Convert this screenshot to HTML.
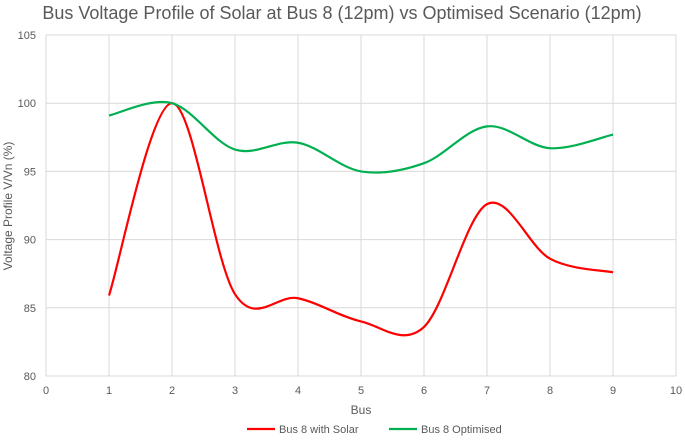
<!DOCTYPE html>
<html><head><meta charset="utf-8"><style>
body{margin:0;background:#fff;font-family:"Liberation Sans",sans-serif}
svg text{font-family:"Liberation Sans",sans-serif;fill:#595959}
</style></head><body>
<svg id="c" width="685" height="439" xmlns="http://www.w3.org/2000/svg">
<text x="342" y="19" text-anchor="middle" font-size="18">Bus Voltage Profile of Solar at Bus 8 (12pm) vs Optimised Scenario (12pm)</text>
<g id="grid"></g><g id="ticks"></g><g id="series"></g>
<text x="361" y="414" text-anchor="middle" font-size="12">Bus</text>
<text transform="translate(12,206) rotate(-90)" text-anchor="middle" font-size="12">Voltage Profile V/Vn (%)</text>
<g>
<line x1="247" y1="429" x2="275" y2="429" stroke="#ff0000" stroke-width="2.2"/>
<text x="279" y="433" font-size="11">Bus 8 with Solar</text>
<line x1="389" y1="429" x2="417" y2="429" stroke="#00b050" stroke-width="2.2"/>
<text x="421" y="433" font-size="11">Bus 8 Optimised</text>
</g>
</svg>
<script>
const buses=[1,2,3,4,5,6,7,8,9];
const solar=[85.9,100,86,85.7,84,83.6,92.6,88.6,87.6];
const optimised=[99.1,100,96.6,97.1,95,95.6,98.3,96.7,97.7];
const xTicks=[0,1,2,3,4,5,6,7,8,9,10];
const yTicks=[80,85,90,95,100,105];
const NS="http://www.w3.org/2000/svg";
const X=v=>46+v*63, Y=v=>376-(v-80)*13.64;
const grid=document.getElementById('grid'),ticks=document.getElementById('ticks'),ser=document.getElementById('series');
function mk(t,a,p){const e=document.createElementNS(NS,t);for(const k in a)e.setAttribute(k,a[k]);p.appendChild(e);return e;}
xTicks.forEach(t=>{const l=mk('line',{x1:X(t),x2:X(t),y1:Y(105),y2:Y(80),stroke:'#d9d9d9'},grid);


const tx=mk('text',{x:X(t),y:394,'text-anchor':'middle','font-size':11},ticks);tx.textContent=t;

});
yTicks.forEach(t=>{const l=mk('line',{x1:X(0),x2:X(10),y1:Y(t),y2:Y(t),stroke:'#d9d9d9'},grid);


const tx=mk('text',{x:36,y:Y(t)+4,'text-anchor':'end','font-size':11},ticks);tx.textContent=t;

});
function path(vals){const p=buses.map((b,i)=>[X(b),Y(vals[i])]);let d='M'+p[0];
for(let i=0;i<p.length-1;i++){const p0=p[i-1]||p[i],p1=p[i],p2=p[i+1],p3=p[i+2]||p2;
const c1=[p1[0]+(p2[0]-p0[0])/6,p1[1]+(p2[1]-p0[1])/6],c2=[p2[0]-(p3[0]-p1[0])/6,p2[1]-(p3[1]-p1[1])/6];
d+=' C'+c1+' '+c2+' '+p2;}return d;}
const a=mk('path',{d:path(solar),fill:'none',stroke:'#ff0000','stroke-width':2.2},ser);


const b=mk('path',{d:path(optimised),fill:'none',stroke:'#00b050','stroke-width':2.2},ser);


</script>
</body></html>
